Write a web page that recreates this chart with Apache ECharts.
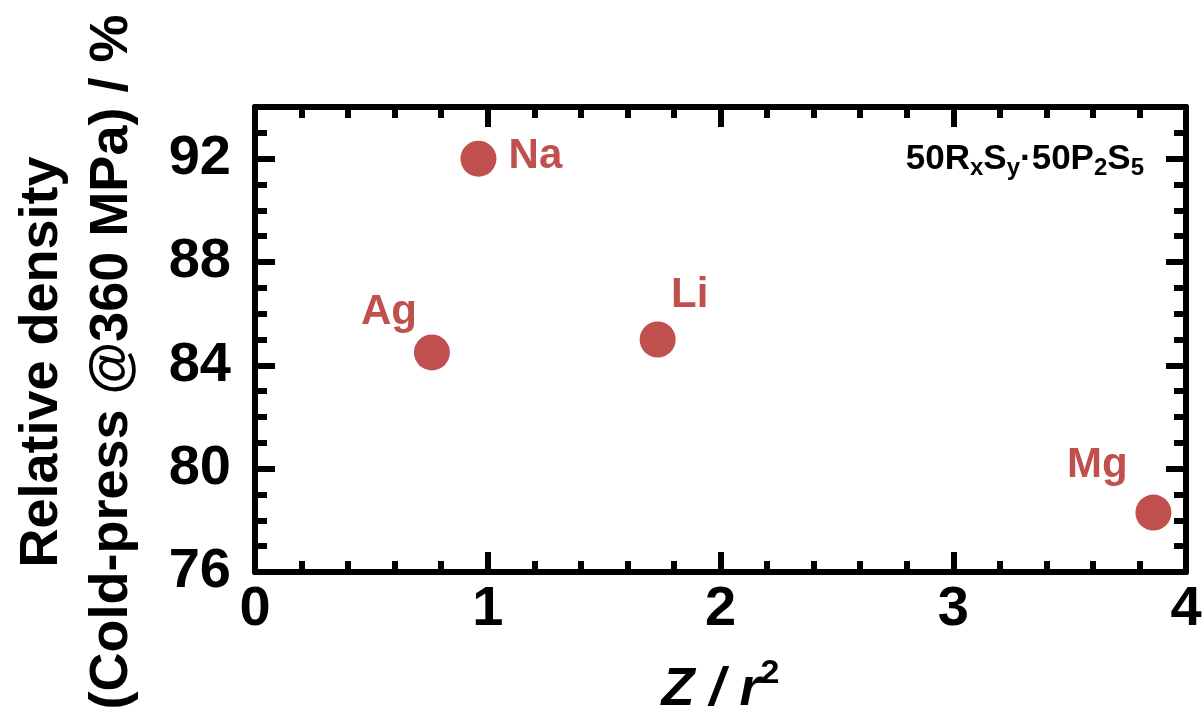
<!DOCTYPE html>
<html>
<head>
<meta charset="utf-8">
<script src="https://cdn.jsdelivr.net/npm/echarts@6/dist/echarts.min.js"></script>
<style>html,body{margin:0;padding:0;background:#fff;overflow:hidden}#c{width:1204px;height:722px}</style>
</head>
<body>
<div id="c"></div>
<script>
// ---- data ----
const elements = ['Na', 'Ag', 'Li', 'Mg'];
const zOverR2 = [0.96, 0.76, 1.73, 3.86];
const relDensity = [92.0, 84.5, 85.0, 78.3];
const xTicks = [0, 1, 2, 3, 4];
const yTicks = [76, 80, 84, 88, 92];

// label placement (style only)
const labelOffsets = {Na: [57, -2], Ag: [-43, -40], Li: [32, -44], Mg: [-56, -47]};

const RED = '#C0504D';
const FONT = '"Liberation Sans", Arial, sans-serif';

const chart = echarts.init(document.getElementById('c'), null, {renderer: 'canvas'});

const axisLineStyle = {color: '#000', width: 6};
function xAxisDef(pos, showLabels) {
  return {
    type: 'value', position: pos, min: 0, max: 4, interval: 1,
    axisLine: {show: true, onZero: false, lineStyle: axisLineStyle},
    axisTick: {show: true, inside: true, length: 20, lineStyle: {color: '#000', width: 6}},
    minorTick: {show: true, splitNumber: 5, length: 11, lineStyle: {color: '#000', width: 6}},
    splitLine: {show: false},
    axisLabel: {show: showLabels, margin: 10, color: '#000', fontFamily: FONT, fontWeight: 'bold', fontSize: 56,
      formatter: v => xTicks.includes(v) ? String(v) : ''},
    name: showLabels ? '{i|Z / r}{s|2}' : '',
    nameLocation: 'middle', nameGap: 85,
    nameTextStyle: {rich: {
      i: {fontFamily: FONT, fontWeight: 'bold', fontStyle: 'italic', fontSize: 54, color: '#000', lineHeight: 60, verticalAlign: 'bottom'},
      s: {fontFamily: FONT, fontWeight: 'bold', fontSize: 34, color: '#000', lineHeight: 60, verticalAlign: 'top'}
    }}
  };
}
function yAxisDef(pos, major, showLabels) {
  return {
    type: 'value', position: pos, min: 76, max: 94, interval: major ? 4 : 1,
    axisLine: {show: major, onZero: false, lineStyle: axisLineStyle},
    axisTick: {show: true, inside: true, length: major ? 20 : 12, lineStyle: {color: '#000', width: 6}},
    splitLine: {show: false},
    axisLabel: {show: showLabels, margin: 24, color: '#000', fontFamily: FONT, fontWeight: 'bold', fontSize: 56,
      showMaxLabel: false,
      formatter: v => yTicks.includes(v) ? String(v) : ''}
  };
}

const option = {
  backgroundColor: '#fff',
  animation: false,
  grid: {left: 255, right: 18, top: 107, bottom: 150, containLabel: false, outerBoundsMode: 'none'},
  xAxis: [xAxisDef('bottom', true), xAxisDef('top', false)],
  yAxis: [yAxisDef('left', true, true), yAxisDef('left', false, false), yAxisDef('right', true, false), yAxisDef('right', false, false)],
  series: [{
    type: 'scatter',
    xAxisIndex: 0, yAxisIndex: 0,
    symbol: 'circle', symbolSize: 36,
    itemStyle: {color: RED, opacity: 1},
    data: elements.map((n, i) => ({
      value: [zOverR2[i], relDensity[i]],
      name: n,
      label: {show: true, position: 'inside', offset: labelOffsets[n], formatter: n,
        color: RED, fontFamily: FONT, fontWeight: 'bold', fontSize: 42}
    }))
  }],
  graphic: [{
    type: 'text', x: 77, y: 362, rotation: Math.PI / 2, z: 100,
    style: {
      text: 'Relative density\n(Cold-press @360 MPa) / %',
      fontFamily: FONT, fontWeight: 'bold', fontSize: 54, lineHeight: 70, fill: '#000',
      align: 'center', verticalAlign: 'middle'
    }
  }, {
    type: 'text', right: 60, top: 142, z: 100,
    style: {
      text: '{m|50R}{s|x}{m|S}{s|y}{m|·50P}{s|2}{m|S}{s|5}',
      rich: {
        m: {fontFamily: FONT, fontWeight: 'bold', fontSize: 35, fill: '#000', lineHeight: 42, verticalAlign: 'middle'},
        s: {fontFamily: FONT, fontWeight: 'bold', fontSize: 24, fill: '#000', lineHeight: 18, verticalAlign: 'bottom'}
      }
    }
  }]
};
chart.setOption(option);
</script>
</body>
</html>
